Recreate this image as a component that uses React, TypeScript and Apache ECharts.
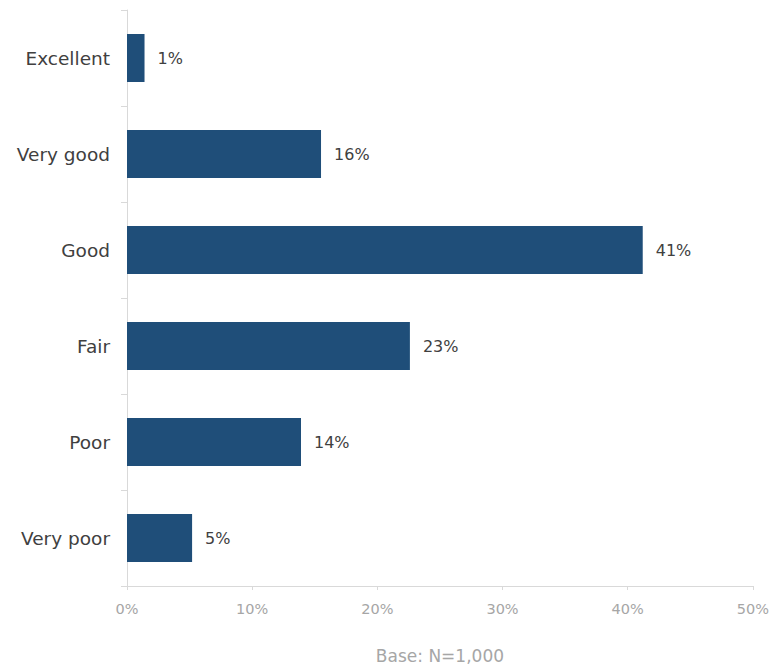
import React, { useEffect, useRef } from "react";
import * as echarts from "echarts";

const categories = ["Excellent", "Very good", "Good", "Fair", "Poor", "Very poor"];
const values = [1.4, 15.5, 41.2, 22.6, 13.9, 5.2];
const xTicks = [0, 10, 20, 30, 40, 50];
const axisTitle = "Base: N=1,000";

export default function App() {
  const ref = useRef<HTMLDivElement>(null);
  useEffect(() => {
    if (!ref.current) return;
    const chart = echarts.init(ref.current, undefined, { renderer: "svg" });
    const font = "'DejaVu Sans', sans-serif";
    chart.setOption({
      animation: false,
      textStyle: { fontFamily: font },
      grid: { left: 127, right: 17, top: 10, bottom: 74, containLabel: false },
      xAxis: {
        type: "value",
        min: xTicks[0],
        max: xTicks[xTicks.length - 1],
        interval: 10,
        name: axisTitle,
        nameLocation: "middle",
        nameGap: 61,
        nameTextStyle: { color: "#a6a6a6", fontSize: 17, fontFamily: font },
        axisLine: { show: true, lineStyle: { color: "#d9d9d9", width: 1 } },
        axisTick: { show: true, length: 4, lineStyle: { color: "#d9d9d9" } },
        splitLine: { show: false },
        axisLabel: {
          color: "#a6a6a6",
          fontSize: 14.5,
          margin: 15,
          fontFamily: font,
          formatter: (v: number) => `${v}%`,
        },
      },
      yAxis: {
        type: "category",
        data: categories,
        inverse: true,
        axisLine: { show: true, lineStyle: { color: "#d9d9d9", width: 1 } },
        axisTick: { show: true, length: 6, lineStyle: { color: "#d9d9d9" } },
        axisLabel: { color: "#404040", fontSize: 18.5, margin: 17, fontFamily: font },
      },
      series: [
        {
          type: "bar",
          data: values,
          barWidth: "50%",
          itemStyle: { color: "#1f4e79" },
          label: {
            show: true,
            position: "right",
            distance: 13,
            color: "#404040",
            fontSize: 16,
            fontFamily: font,
            formatter: (p: any) => `${Math.round(p.value)}%`,
          },
        },
      ],
    });
    return () => chart.dispose();
  }, []);
  return (
    <div
      ref={ref}
      style={{ position: "fixed", left: 0, top: 0, width: 772, height: 669, background: "#fff" }}
    />
  );
}
